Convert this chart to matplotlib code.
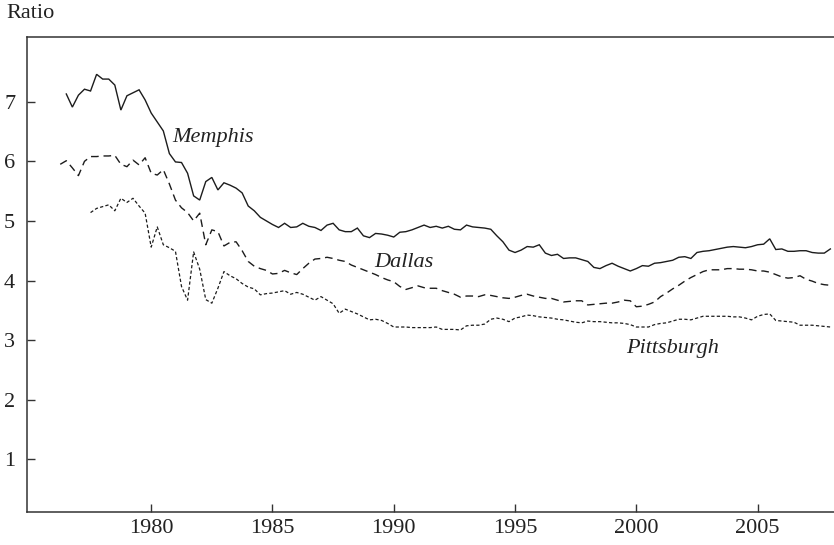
import matplotlib
matplotlib.use("Agg")
import matplotlib.pyplot as plt
import numpy as np

# quarterly ratios, first quarter given by the start year
memphis_start = 1976.5
memphis = [
    7.13, 6.91,
    7.11, 7.21, 7.18, 7.46,
    7.38, 7.38, 7.28, 6.86,
    7.10, 7.15, 7.20, 7.03,
    6.81, 6.66, 6.51, 6.13,
    5.99, 5.98, 5.80, 5.42,
    5.35, 5.66, 5.73, 5.52,
    5.64, 5.60, 5.55, 5.47,
    5.25, 5.17, 5.06, 5.00,
    4.94, 4.89, 4.96, 4.89,
    4.90, 4.96, 4.91, 4.89,
    4.84, 4.93, 4.96, 4.85,
    4.82, 4.82, 4.88, 4.75,
    4.72, 4.79, 4.78, 4.76,
    4.73, 4.81, 4.82, 4.85,
    4.89, 4.93, 4.89, 4.91,
    4.88, 4.91, 4.86, 4.85,
    4.93, 4.90, 4.89, 4.88,
    4.86, 4.75, 4.65, 4.51,
    4.47, 4.51, 4.57, 4.56,
    4.60, 4.46, 4.42, 4.44,
    4.37, 4.38, 4.38, 4.35,
    4.32, 4.22, 4.20, 4.25,
    4.29, 4.24, 4.20, 4.16,
    4.20, 4.25, 4.24, 4.29,
    4.30, 4.32, 4.34, 4.39,
    4.40, 4.37, 4.47, 4.49,
    4.50, 4.52, 4.54, 4.56,
    4.57, 4.56, 4.55, 4.57,
    4.60, 4.61, 4.70, 4.52,
    4.53, 4.49, 4.49, 4.50,
    4.50, 4.47, 4.46, 4.46,
    4.53,
]

dallas_start = 1976.25
dallas = [
    5.95, 6.01, 5.89,
    5.76, 6.00, 6.08, 6.08,
    6.09, 6.09, 6.10, 5.95,
    5.91, 6.02, 5.94, 6.06,
    5.80, 5.77, 5.86, 5.62,
    5.35, 5.22, 5.14, 5.00,
    5.13, 4.60, 4.85, 4.82,
    4.58, 4.64, 4.65, 4.50,
    4.32, 4.24, 4.20, 4.17,
    4.11, 4.12, 4.17, 4.13,
    4.10, 4.20, 4.29, 4.36,
    4.37, 4.39, 4.37, 4.34,
    4.32, 4.26, 4.22, 4.18,
    4.14, 4.10, 4.05, 4.01,
    3.98, 3.90, 3.85, 3.88,
    3.91, 3.88, 3.87, 3.87,
    3.83, 3.80, 3.77, 3.72,
    3.74, 3.74, 3.73, 3.76,
    3.75, 3.73, 3.71, 3.70,
    3.72, 3.75, 3.77, 3.74,
    3.72, 3.70, 3.70, 3.67,
    3.64, 3.65, 3.66, 3.66,
    3.59, 3.60, 3.61, 3.62,
    3.62, 3.64, 3.67, 3.66,
    3.56, 3.57, 3.60, 3.64,
    3.73, 3.79, 3.86, 3.92,
    3.99, 4.05, 4.10, 4.15,
    4.18, 4.18, 4.18, 4.20,
    4.20, 4.19, 4.19, 4.18,
    4.16, 4.16, 4.14, 4.10,
    4.06, 4.04, 4.05, 4.08,
    4.02, 3.99, 3.95, 3.93,
    3.92,
]

pittsburgh_start = 1977.5
pittsburgh = [
    5.14, 5.21,
    5.24, 5.27, 5.17, 5.38,
    5.31, 5.38, 5.25, 5.13,
    4.56, 4.90, 4.60, 4.55,
    4.49, 3.90, 3.67, 4.48,
    4.19, 3.68, 3.62, 3.87,
    4.15, 4.08, 4.03, 3.95,
    3.89, 3.86, 3.76, 3.78,
    3.79, 3.81, 3.83, 3.77,
    3.80, 3.77, 3.72, 3.67,
    3.73, 3.67, 3.61, 3.45,
    3.52, 3.48, 3.44, 3.39,
    3.34, 3.35, 3.33, 3.28,
    3.22, 3.22, 3.22, 3.21,
    3.21, 3.21, 3.21, 3.22,
    3.18, 3.18, 3.18, 3.17,
    3.24, 3.25, 3.25, 3.27,
    3.35, 3.37, 3.35, 3.31,
    3.37, 3.39, 3.42, 3.41,
    3.39, 3.38, 3.37, 3.35,
    3.34, 3.32, 3.30, 3.29,
    3.32, 3.31, 3.31, 3.30,
    3.29, 3.29, 3.28, 3.26,
    3.22, 3.22, 3.22, 3.26,
    3.28, 3.29, 3.32, 3.35,
    3.35, 3.34, 3.37, 3.40,
    3.40, 3.40, 3.40, 3.40,
    3.39, 3.39, 3.37, 3.34,
    3.40, 3.43, 3.44, 3.33,
    3.32, 3.31, 3.30, 3.25,
    3.25, 3.25, 3.24, 3.23,
    3.22,
]

x_ticks = [1980, 1985, 1990, 1995, 2000, 2005]
y_ticks = [1, 2, 3, 4, 5, 6, 7]


def quarters(start, values):
    return start + 0.25 * np.arange(len(values))


def ratio_chart():
    plt.rcParams['font.family'] = ['Liberation Serif', 'DejaVu Serif']
    plt.rcParams['font.size'] = 16

    fig = plt.figure(figsize=(8.34, 5.45), dpi=100)
    ax = fig.add_axes([27 / 834, 33 / 545, 807 / 834, 475 / 545])

    ink = '#1c1c1c'
    ax.plot(quarters(memphis_start, memphis), memphis, color=ink, lw=1.0,
            solid_joinstyle='miter')
    ax.plot(quarters(dallas_start, dallas), dallas, color=ink, lw=1.0,
            dashes=(5.5, 3.5))
    ax.plot(quarters(pittsburgh_start, pittsburgh), pittsburgh, color=ink,
            lw=0.9, dashes=(2.6, 1.8))

    ax.text(1980.87, 6.33, 'Memphis', style='italic', color='#222222',
            va='baseline', ha='left')
    ax.text(1989.21, 4.23, 'Dallas', style='italic', color='#222222',
            va='baseline', ha='left')
    ax.text(1999.59, 2.78, 'Pittsburgh', style='italic', color='#222222',
            va='baseline', ha='left')

    ax.set_xlim(1974.88, 2008.15)
    ax.set_ylim(0.116, 8.086)
    ax.set_xticks(x_ticks)
    ax.set_yticks(y_ticks)
    ax.tick_params(direction='in', length=5.8, width=1.0, color='#333333',
                   labelcolor='#222222')
    ax.tick_params(axis='y', pad=8.5)
    ax.tick_params(axis='x', pad=5)

    ax.spines['right'].set_visible(False)
    for side in ['left', 'top', 'bottom']:
        ax.spines[side].set_linewidth(1.1)
        ax.spines[side].set_color('#333333')

    fig.text(6 / 834, 1 - 13 / 545, 'Ratio', va='center', ha='left',
             color='#222222')

    fig.savefig('out.png', dpi=100)


if __name__ == "__main__":
    ratio_chart()
